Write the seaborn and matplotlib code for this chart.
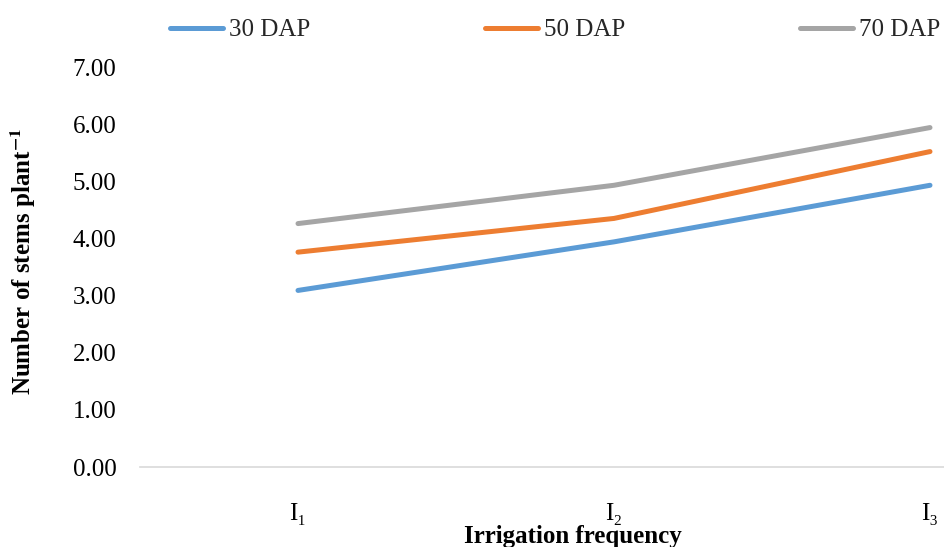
import matplotlib
matplotlib.use("Agg")
import matplotlib.pyplot as plt
import seaborn as sns
import pandas as pd
from matplotlib.ticker import FormatStrFormatter

categories = ["I\u2081", "I\u2082", "I\u2083"]
series_names = ["30 DAP", "50 DAP", "70 DAP"]
dap30 = [3.09, 3.94, 4.93]
dap50 = [3.76, 4.35, 5.52]
dap70 = [4.26, 4.93, 5.94]
colors = ["#5B9BD5", "#ED7D31", "#A5A5A5"]

rows = []
for name, vals in zip(series_names, [dap30, dap50, dap70]):
    for c, v in zip(categories, vals):
        rows.append({"cat": c, "value": v, "series": name})
df = pd.DataFrame(rows)

sns.set_theme(style="white")
plt.rcParams["font.family"] = ["Liberation Serif", "DejaVu Serif"]
plt.rcParams["mathtext.fontset"] = "stix"

W, H = 944, 547
fig = plt.figure(figsize=(W / 100, H / 100), dpi=100)
left, right, bottom, top = 140, 944, 467, 67
ax = fig.add_axes([left / W, 1 - bottom / H, (right - left) / W, (bottom - top) / H])

sns.lineplot(data=df, x="cat", y="value", hue="series", palette=colors,
             hue_order=series_names, linewidth=3.6, ax=ax, sort=False,
             legend=True)
for ln in ax.lines:
    ln.set_solid_capstyle("round")

ax.set_ylim(0, 7)
ax.set_yticks(range(0, 8))
ax.yaxis.set_major_formatter(FormatStrFormatter("%.2f"))
ax.set_xlim(-0.5, (right - left) / 316 - 0.5)

for s in ["top", "right", "left"]:
    ax.spines[s].set_visible(False)
ax.spines["bottom"].set_color("#d9d9d9")
ax.spines["bottom"].set_linewidth(1.2)
ax.grid(False)

ax.tick_params(axis="y", length=0, pad=17, labelsize=18, labelcolor="#000000")
ax.tick_params(axis="x", length=0, pad=26, labelsize=18, labelcolor="#000000")

ax.set_xlabel("")
ax.set_ylabel("Number of stems plant$^{\\mathbf{-1}}$", fontsize=18, fontweight="bold",
              color="black")
ax.yaxis.label.set_va("center")
ax.yaxis.set_label_coords(23 / W, 1 - 262 / H, transform=fig.transFigure)
fig.text(573 / W, 1 - 537 / H, "Irrigation frequency", ha="center", va="center",
         fontsize=18, fontweight="bold", color="black")

handles, labels = ax.get_legend_handles_labels()
ax.get_legend().remove()
leg = fig.legend(handles, labels, loc="center left", bbox_to_anchor=(170 / W, 1 - 30 / H),
                 ncol=3, frameon=False, fontsize=18, handlelength=2.1,
                 handletextpad=0.25, columnspacing=7.0, borderpad=0, borderaxespad=0)
for lh in leg.get_lines():
    lh.set_linewidth(3.6)
    lh.set_solid_capstyle("round")

fig.savefig("out.png", dpi=100)
